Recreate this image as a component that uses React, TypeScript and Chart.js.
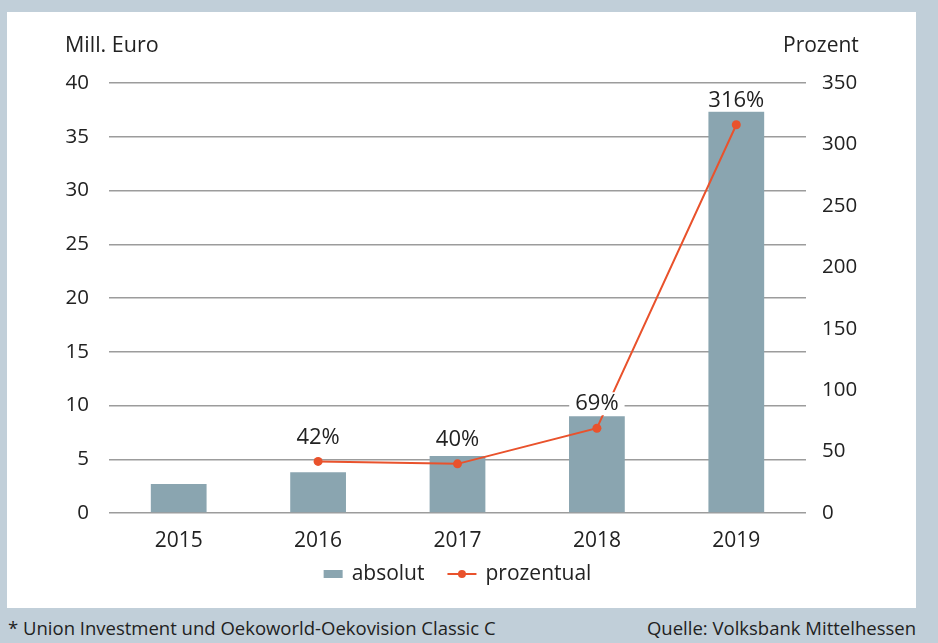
import React, { useEffect, useRef } from "react";
import { Chart, registerables } from "chart.js";

Chart.register(...registerables);

const years = ["2015", "2016", "2017", "2018", "2019"];
const absolut = [2.7, 3.8, 5.3, 9.0, 37.4];
const prozentual: (number | null)[] = [null, 42, 40, 69, 316];
const leftTitle = "Mill. Euro";
const rightTitle = "Prozent";
const footLeft = "* Union Investment und Oekoworld-Oekovision Classic C";
const footRight = "Quelle: Volksbank Mittelhessen";

const FONT = "'Open Sans', 'Noto Sans', sans-serif";
const TEXT = "#222222";
const BAR = "#8aa5b0";
const LINE = "#e9522c";
const GRID = "#9c9c9c";

const labelPlugin = {
  id: "pctLabels",
  afterDatasetsDraw(chart: any) {
    const ctx = chart.ctx;
    const meta = chart.getDatasetMeta(1);
    const ds = chart.data.datasets[1];
    ctx.save();
    ctx.font = `22px ${FONT}`;
    ctx.textAlign = "center";
    ctx.textBaseline = "middle";
    meta.data.forEach((pt: any, i: number) => {
      const v = ds.data[i];
      if (v === null || v === undefined) return;
      const txt = `${v}%`;
      const w = ctx.measureText(txt).width;
      const cy = pt.y - 24;
      ctx.fillStyle = "#ffffff";
      ctx.fillRect(pt.x - w / 2 - 6, cy - 12, w + 12, 23);
      ctx.fillStyle = TEXT;
      ctx.fillText(txt, pt.x, cy);
    });
    ctx.restore();
  },
};

const legendPlugin = {
  id: "customLegend",
  afterDraw(chart: any) {
    const ctx = chart.ctx;
    const ca = chart.chartArea;
    ctx.save();
    ctx.font = `21px ${FONT}`;
    ctx.textBaseline = "middle";
    ctx.textAlign = "left";
    const l1 = chart.data.datasets[0].label;
    const l2 = chart.data.datasets[1].label;
    const w1 = ctx.measureText(l1).width;
    const w2 = ctx.measureText(l2).width;
    const boxW = 19, lineW = 29, gapT = 9, gapItem = 23;
    const total = boxW + gapT + w1 + gapItem + lineW + gapT + w2;
    let x = (ca.left + ca.right) / 2 - total / 2;
    const y = 562;
    ctx.fillStyle = BAR;
    ctx.fillRect(x, y - 4, boxW, 8);
    x += boxW + gapT;
    ctx.fillStyle = TEXT;
    ctx.fillText(l1, x, y);
    x += w1 + gapItem;
    ctx.strokeStyle = LINE;
    ctx.lineWidth = 2;
    ctx.beginPath();
    ctx.moveTo(x, y);
    ctx.lineTo(x + lineW, y);
    ctx.stroke();
    ctx.fillStyle = LINE;
    ctx.beginPath();
    ctx.arc(x + lineW / 2, y, 4, 0, Math.PI * 2);
    ctx.fill();
    x += lineW + gapT;
    ctx.fillStyle = TEXT;
    ctx.fillText(l2, x, y);
    ctx.restore();
  },
};

function ChartBox() {
  const ref = useRef<HTMLCanvasElement | null>(null);
  useEffect(() => {
    if (!ref.current) return;
    const chart = new Chart(ref.current, {
      type: "bar",
      data: {
        labels: years,
        datasets: [
          {
            type: "bar",
            label: "absolut",
            data: absolut,
            backgroundColor: BAR,
            yAxisID: "y",
            barPercentage: 0.4,
            categoryPercentage: 1,
            order: 2,
          },
          {
            type: "line",
            label: "prozentual",
            data: prozentual as any,
            borderColor: LINE,
            backgroundColor: LINE,
            borderWidth: 2,
            pointRadius: 4.5,
            pointBackgroundColor: LINE,
            pointBorderWidth: 0,
            yAxisID: "y1",
            order: 1,
            spanGaps: false,
          } as any,
        ],
      },
      options: {
        responsive: false,
        animation: false,
        layout: { padding: { top: 71, left: 0, right: 0, bottom: 0 } },
        plugins: {
          legend: { display: false },
          tooltip: { enabled: false },
        },
        scales: {
          x: {
            grid: { display: false, drawTicks: false },
            border: { display: false },
            ticks: { color: TEXT, font: { family: FONT, size: 21 }, padding: 15 },
            afterFit(s: any) {
              s.height = 95;
            },
          },
          y: {
            position: "left",
            min: 0,
            max: 40,
            ticks: { stepSize: 5, color: TEXT, font: { family: FONT, size: 20.5 }, padding: 20 },
            grid: { color: GRID, lineWidth: 1.5, drawTicks: false },
            border: { display: false },
            afterFit(s: any) {
              s.width = 102;
            },
          },
          y1: {
            position: "right",
            min: 0,
            max: 350,
            ticks: { stepSize: 50, color: TEXT, font: { family: FONT, size: 20.5 }, padding: 16 },
            grid: { display: false, drawTicks: false },
            border: { display: false },
            afterFit(s: any) {
              s.width = 110;
            },
          },
        },
      } as any,
      plugins: [labelPlugin, legendPlugin],
    });
    return () => chart.destroy();
  }, []);
  return <canvas ref={ref} width={909} height={596} style={{ width: 909, height: 596, display: "block" }} />;
}

export default function App() {
  return (
    <div
      style={{
        position: "fixed",
        left: 0,
        top: 0,
        width: 938,
        height: 643,
        background: "#c1cfd9",
        fontFamily: FONT,
        color: TEXT,
        overflow: "hidden",
      }}
    >
      <div style={{ position: "absolute", left: 7, top: 12, width: 909, height: 596, background: "#ffffff" }}>
        <ChartBox />
        <div style={{ position: "absolute", left: 58, top: 20, fontSize: 21.5, lineHeight: "24px", whiteSpace: "nowrap" }}>{leftTitle}</div>
        <div style={{ position: "absolute", left: 776, top: 20, fontSize: 21, lineHeight: "24px", whiteSpace: "nowrap" }}>{rightTitle}</div>
      </div>
      <div style={{ position: "absolute", left: 8, top: 616, fontSize: 18.5, lineHeight: "24px", whiteSpace: "nowrap" }}>
        {footLeft}
      </div>
      <div
        style={{ position: "absolute", right: 22, top: 616, fontSize: 18.5, lineHeight: "24px", whiteSpace: "nowrap" }}
      >
        {footRight}
      </div>
    </div>
  );
}
